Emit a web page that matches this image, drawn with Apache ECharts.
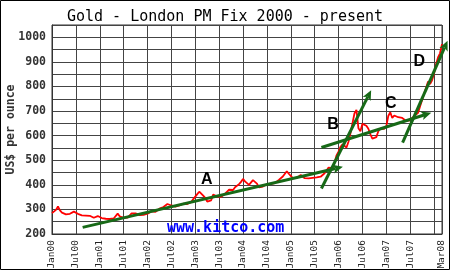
<!DOCTYPE html>
<html><head><meta charset="utf-8">
<script src="https://cdn.jsdelivr.net/npm/echarts@6/dist/echarts.min.js"></script>
<style>html,body{margin:0;padding:0;background:#fff}#c{width:450px;height:270px}</style>
</head><body><div id="c"></div>
<script>
// x axis: months since Jan 2000
const xTickMonths = [0,6,12,18,24,30,36,42,48,54,60,66,72,78,84,90,96,98];
const xTickLabels = ['Jan00','Jul00','Jan01','Jul01','Jan02','Jul02','Jan03','Jul03','Jan04','Jul04','Jan05','Jul05','Jan06','Jul06','Jan07','Jul07','Jan08','Mar08'];
const yTickValues = [200,300,400,500,600,700,800,900,1000];
const priceStepMonths = 0.5;
// London PM fix, US$ per ounce, every half month from Jan 2000
const prices = [
 285,288,298,312,296,287,283,280,277,282,287,291,288,282,278,276,279,275,272,274,269,266,270,273,
 268,265,267,262,264,261,258,263,270,283,272,268,266,270,267,273,284,291,284,280,277,274,278,281,
 283,285,292,296,290,297,303,307,310,318,322,325,316,319,311,313,316,320,323,318,322,320,330,342,
 350,362,372,376,356,347,332,327,337,360,362,352,348,351,358,364,372,380,384,379,390,397,403,412,
 424,414,406,400,408,419,425,405,390,386,393,396,402,397,404,410,407,414,420,428,434,442,455,445,
 436,427,421,428,433,440,432,427,433,426,421,428,436,430,425,433,440,447,458,470,473,468,490,520,
 535,555,565,557,552,575,610,650,690,705,630,618,648,652,640,628,605,588,582,594,618,628,632,628,
 638,680,695,672,682,690,675,668,672,667,660,665,662,670,680,686,693,720,745,770,795,820,810,825,
 852,890,918,935,972
];
// trend lines [fromMonth, fromPrice] -> [toMonth, toPrice]
const trendFrom = [[7.7,227],[67.7,385],[67.7,552],[88.1,572]];
const trendTo   = [[73.1,473],[80.2,785],[95.3,693],[99.4,986]];
const letterNames = ['A','B','C','D'];
const letterPos = [[38.9,423],[70.6,645],[85.1,731],[92.3,903]];

const priceData = prices.map((v,i)=>[i*priceStepMonths, v]);
const trendData = trendFrom.map((f,i)=>[f[0],f[1],trendTo[i][0],trendTo[i][1]]);
const letterData = letterPos.map((p,i)=>({value:[p[0],p[1]], name:letterNames[i]}));

const GREEN = '#176917';
const chart = echarts.init(document.getElementById('c'));
chart.setOption({
  animation:false,
  backgroundColor:'#fff',
  title:{text:'Gold - London PM Fix 2000 - present', left:'center', top:5,
    textStyle:{fontFamily:'DejaVu Sans Mono', fontSize:15, fontWeight:'normal', color:'#000'}},
  grid:{left:52,right:8,top:25,bottom:36,show:true,borderColor:'#333',borderWidth:1,
    containLabel:false,outerBoundsMode:'none'},
  xAxis:{type:'value',min:0,max:98,interval:6,
    axisLine:{show:true,lineStyle:{color:'#333',width:1}},
    axisTick:{show:false},
    splitLine:{show:true,lineStyle:{color:'#444',width:1}},
    axisLabel:{rotate:90,margin:6,showMinLabel:true,showMaxLabel:true,hideOverlap:false,
      fontFamily:'DejaVu Sans Mono',fontSize:9.5,color:'#222',
      formatter:v=>{const k=xTickMonths.indexOf(Math.round(v*100)/100);return k>=0?xTickLabels[k]:'';}}},
  yAxis:{type:'value',min:200,max:1050,interval:50,
    name:'US$ per ounce',nameLocation:'middle',nameGap:35,nameMoveOverlap:false,
    nameTextStyle:{fontFamily:'DejaVu Sans Mono',fontWeight:'bold',fontSize:11.5,color:'#333'},
    axisLine:{show:true,lineStyle:{color:'#333',width:1}},
    axisTick:{show:false},
    splitLine:{show:true,lineStyle:{color:'#444',width:1}},
    axisLabel:{margin:6,fontFamily:'DejaVu Sans Mono',fontWeight:'bold',fontSize:11.5,color:'#333',
      formatter:v=>yTickValues.includes(v)?String(v):''}},
  graphic:[
    {type:'rect',shape:{x:0.5,y:0.5,width:449,height:269},style:{fill:'none',stroke:'#000',lineWidth:1},z:200},
    {type:'text',x:167,y:228,z:150,style:{text:'www.kitco.com',font:'bold 15px "DejaVu Sans Mono"',fill:'#0000ff',verticalAlign:'middle'}}
  ],
  series:[
    {type:'line',data:priceData,showSymbol:false,symbol:'none',lineStyle:{color:'#ff0000',width:1.8},z:3},
    {type:'custom',data:trendData,clip:false,z:5,
      renderItem:(params,api)=>{
        const p1=api.coord([api.value(0),api.value(1)]);
        const p2=api.coord([api.value(2),api.value(3)]);
        const dx=p2[0]-p1[0], dy=p2[1]-p1[1], L=Math.hypot(dx,dy);
        const ux=dx/L, uy=dy/L, nx=-uy, ny=ux;
        const hl=10, hw=4.5;
        const b=[p2[0]-ux*hl,p2[1]-uy*hl];
        const notch=[p2[0]-ux*hl*0.75,p2[1]-uy*hl*0.75];
        return {type:'group',children:[
          {type:'line',shape:{x1:p1[0],y1:p1[1],x2:notch[0],y2:notch[1]},style:{stroke:GREEN,lineWidth:3}},
          {type:'polygon',shape:{points:[p2,[b[0]+nx*hw,b[1]+ny*hw],notch,[b[0]-nx*hw,b[1]-ny*hw]]},style:{fill:GREEN}}
        ]};
      }},
    {type:'custom',data:letterData,clip:false,z:6,
      renderItem:(params,api)=>{
        const p=api.coord([api.value(0),api.value(1)]);
        return {type:'text',x:p[0],y:p[1],style:{text:letterNames[params.dataIndex],font:'bold 16px "Liberation Sans"',fill:'#000',align:'center',verticalAlign:'middle'}};
      }}
  ]
});
</script></body></html>
